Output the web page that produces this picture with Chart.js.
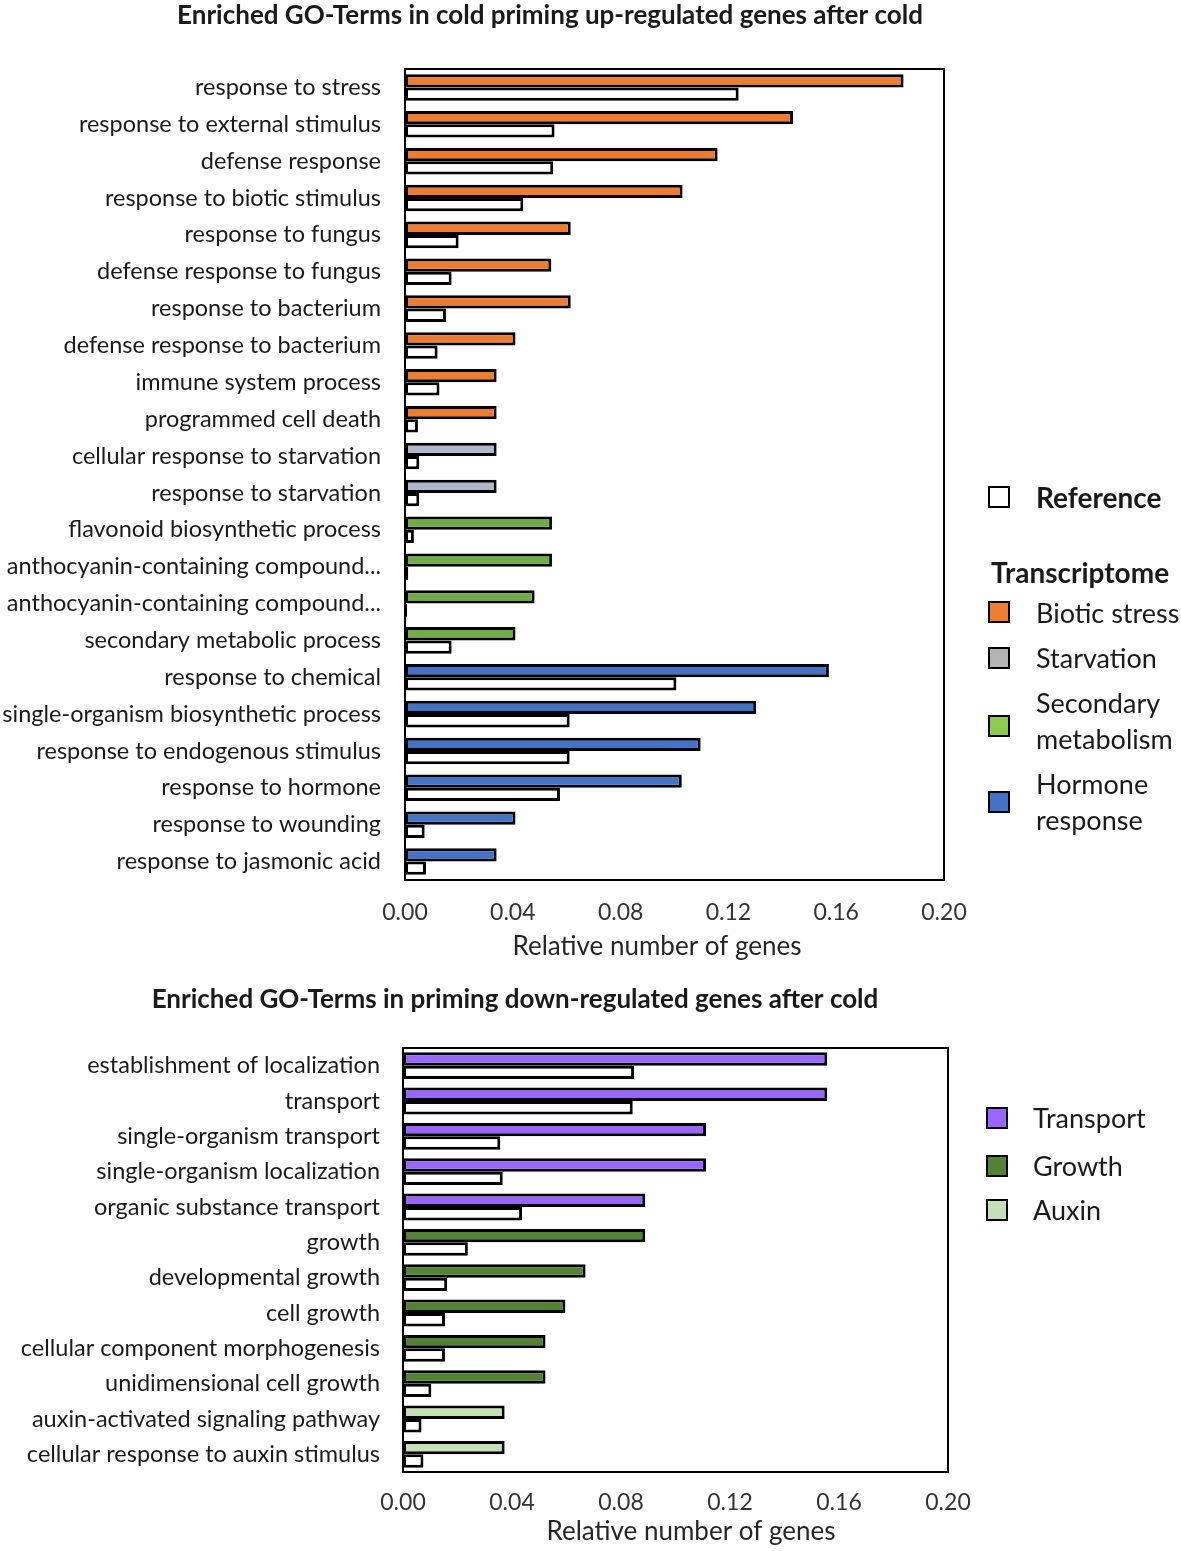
<!DOCTYPE html>
<html>
<head>
<meta charset="utf-8">
<script src="https://cdn.jsdelivr.net/npm/chart.js@4.4.1/dist/chart.umd.min.js"></script>
<style>
  html, body { margin:0; padding:0; background:#fff; }
  body { width:1181px; height:1551px; position:relative; overflow:hidden; font-family: Lato, "Open Sans", sans-serif; color:#1a1a1a; }
  .wrap { position:absolute; left:0; }
  .lg { position:absolute; font-size:27px; line-height:36px; white-space:nowrap; color:#1a1a1a; }
  .sq { position:absolute; width:18px; height:18px; border:2px solid #000; }
  .b { font-weight:bold; font-size:28px; }
</style>
</head>
<body>
<div class="wrap" style="top:0; width:1100px; height:975px;"><canvas id="c1"></canvas></div>
<div class="wrap" style="top:975px; width:1030px; height:576px;"><canvas id="c2"></canvas></div>

<!-- Top legend -->
<div class="sq" style="left:988px; top:486px; background:#fff;"></div>
<div class="lg b" style="left:1036px; top:479px;">Reference</div>
<div class="lg b" style="left:991px; top:554px;">Transcriptome</div>
<div class="sq" style="left:988px; top:601px; background:#ED7D31;"></div>
<div class="lg" style="left:1036px; top:595px;">Biotic stress</div>
<div class="sq" style="left:988px; top:647px; background:#B4B4B4;"></div>
<div class="lg" style="left:1036px; top:640px;">Starvation</div>
<div class="sq" style="left:988px; top:715px; background:#8CCB50;"></div>
<div class="lg" style="left:1036px; top:685px;">Secondary<br>metabolism</div>
<div class="sq" style="left:988px; top:791px; background:#4472C4;"></div>
<div class="lg" style="left:1036px; top:766px;">Hormone<br>response</div>

<!-- Bottom legend -->
<div class="sq" style="left:986px; top:1107px; background:#9966FF;"></div>
<div class="lg" style="left:1033px; top:1100px;">Transport</div>
<div class="sq" style="left:986px; top:1155px; background:#548235;"></div>
<div class="lg" style="left:1033px; top:1148px;">Growth</div>
<div class="sq" style="left:986px; top:1199px; background:#C5E0B4;"></div>
<div class="lg" style="left:1033px; top:1192px;">Auxin</div>

<script>
// ---------- Data: top chart ----------
const upCategories = [
  "response to stress",
  "response to external stimulus",
  "defense response",
  "response to biotic stimulus",
  "response to fungus",
  "defense response to fungus",
  "response to bacterium",
  "defense response to bacterium",
  "immune system process",
  "programmed cell death",
  "cellular response to starvation",
  "response to starvation",
  "flavonoid biosynthetic process",
  "anthocyanin-containing compound...",
  "anthocyanin-containing compound...",
  "secondary metabolic process",
  "response to chemical",
  "single-organism biosynthetic process",
  "response to endogenous stimulus",
  "response to hormone",
  "response to wounding",
  "response to jasmonic acid"
];
const upGroups = [
  "Biotic stress","Biotic stress","Biotic stress","Biotic stress","Biotic stress",
  "Biotic stress","Biotic stress","Biotic stress","Biotic stress","Biotic stress",
  "Starvation","Starvation",
  "Secondary metabolism","Secondary metabolism","Secondary metabolism","Secondary metabolism",
  "Hormone response","Hormone response","Hormone response","Hormone response","Hormone response","Hormone response"
];
const upTranscriptome = [0.185, 0.144, 0.116, 0.103, 0.0615, 0.0543, 0.0615, 0.041, 0.034, 0.034,
  0.034, 0.034, 0.0546, 0.0546, 0.0481, 0.041, 0.1573, 0.1303, 0.1097, 0.1027, 0.041, 0.034];
const upReference = [0.1238, 0.0555, 0.055, 0.0439, 0.0199, 0.0173, 0.0152, 0.0121, 0.0128, 0.0048,
  0.0053, 0.0053, 0.0033, 0.0012, 0.0008, 0.0173, 0.1007, 0.0611, 0.0611, 0.0575, 0.0073, 0.0078];

// ---------- Data: bottom chart ----------
const downCategories = [
  "establishment of localization",
  "transport",
  "single-organism transport",
  "single-organism localization",
  "organic substance transport",
  "growth",
  "developmental growth",
  "cell growth",
  "cellular component morphogenesis",
  "unidimensional cell growth",
  "auxin-activated signaling pathway",
  "cellular response to auxin stimulus"
];
const downGroups = ["Transport","Transport","Transport","Transport","Transport",
  "Growth","Growth","Growth","Growth","Growth","Auxin","Auxin"];
const downTranscriptome = [0.1557, 0.1557, 0.1112, 0.1112, 0.0889, 0.0889, 0.067, 0.0596, 0.0523, 0.0523, 0.0373, 0.0373];
const downReference = [0.0848, 0.0843, 0.0357, 0.0366, 0.0437, 0.0238, 0.0162, 0.0154, 0.0154, 0.0104, 0.0068, 0.0075];

const xTicks = [0.00, 0.04, 0.08, 0.12, 0.16, 0.20];
const xAxisTitle = 'Relative number of genes';

// ---------- Styles ----------
const groupColors = {
  "Biotic stress": "#ED7D31",
  "Starvation": "#ADB9CA",
  "Secondary metabolism": "#70AD47",
  "Hormone response": "#4472C4",
  "Transport": "#9966FF",
  "Growth": "#548235",
  "Auxin": "#C5E0B4"
};
const FONT = "Lato, 'Open Sans', sans-serif";

const boxPlugin = {
  id: 'plotBox',
  afterDraw(chart, args, opts) {
    const a = chart.chartArea, ctx = chart.ctx;
    ctx.save();
    ctx.strokeStyle = '#000';
    ctx.lineWidth = 2;
    ctx.strokeRect(a.left, a.top, a.right - a.left, a.bottom - a.top);
    ctx.fillStyle = '#262626';
    ctx.font = "26px " + FONT;
    ctx.textAlign = 'center';
    ctx.textBaseline = 'middle';
    ctx.fillText(opts.text, opts.x, opts.y);
    ctx.restore();
  }
};

function makeChart(id, cfg) {
  const datasets = [
    {
      label: 'Transcriptome',
      data: cfg.trans,
      backgroundColor: cfg.groups.map(g => groupColors[g]),
      borderColor: '#000', borderWidth: 3, borderSkipped: false,
      barPercentage: 1.0, categoryPercentage: cfg.catPct
    },
    {
      label: 'Reference',
      data: cfg.ref,
      backgroundColor: '#fff',
      borderColor: '#000', borderWidth: 3, borderSkipped: false,
      barPercentage: 1.0, categoryPercentage: cfg.catPct
    }
  ];
  return new Chart(document.getElementById(id), {
    type: 'bar',
    data: { labels: cfg.labels, datasets },
    options: {
      indexAxis: 'y',
      responsive: true,
      maintainAspectRatio: false,
      animation: false,
      layout: { padding: 0 },
      plugins: {
        legend: { display: false },
        tooltip: { enabled: false },
        title: {
          display: true, text: cfg.title, color: '#1a1a1a',
          font: { family: FONT, size: 26, weight: 'bold' },
          padding: { top: cfg.titleTop, bottom: cfg.titleBottom }
        },
        plotBox: { text: xAxisTitle, x: cfg.axisTitleX, y: cfg.axisTitleY }
      },
      scales: {
        x: {
          min: 0, max: 0.2,
          afterBuildTicks: s => { s.ticks = xTicks.map(v => ({ value: v })); },
          afterFit: s => { s.height = cfg.xHeight; },
          grid: { display: false, drawTicks: false },
          border: { display: false },
          ticks: {
            padding: cfg.tickPad, color: '#333',
            font: { family: FONT, size: 23 },
            callback: v => Number(v).toFixed(2)
          }
        },
        y: {
          afterFit: s => { s.width = cfg.left; },
          grid: { display: false, drawTicks: false },
          border: { display: false },
          ticks: {
            padding: cfg.labelPad, color: '#1a1a1a', autoSkip: false,
            font: { family: FONT, size: 23.5 }
          }
        },
        rightPad: {
          type: 'linear', position: 'right', display: true,
          afterFit: s => { s.width = cfg.rightPad; },
          grid: { display: false, drawTicks: false },
          border: { display: false },
          ticks: { display: false }
        }
      }
    },
    plugins: [boxPlugin]
  });
}

makeChart('c1', {
  labels: upCategories, trans: upTranscriptome, ref: upReference, groups: upGroups,
  title: 'Enriched GO-Terms in cold priming up-regulated genes after cold',
  catPct: 0.72, titleTop: 0, titleBottom: 37.8, xHeight: 95, tickPad: 19,
  axisTitleX: 657, axisTitleY: 947,
  left: 405, labelPad: 24, rightPad: 156
});

makeChart('c2', {
  labels: downCategories, trans: downTranscriptome, ref: downReference, groups: downGroups,
  title: 'Enriched GO-Terms in priming down-regulated genes after cold',
  catPct: 0.76, titleTop: 9.4, titleBottom: 32.4, xHeight: 79, tickPad: 17,
  axisTitleX: 691, axisTitleY: 557,
  left: 403, labelPad: 23, rightPad: 82
});
</script>
</body>
</html>
